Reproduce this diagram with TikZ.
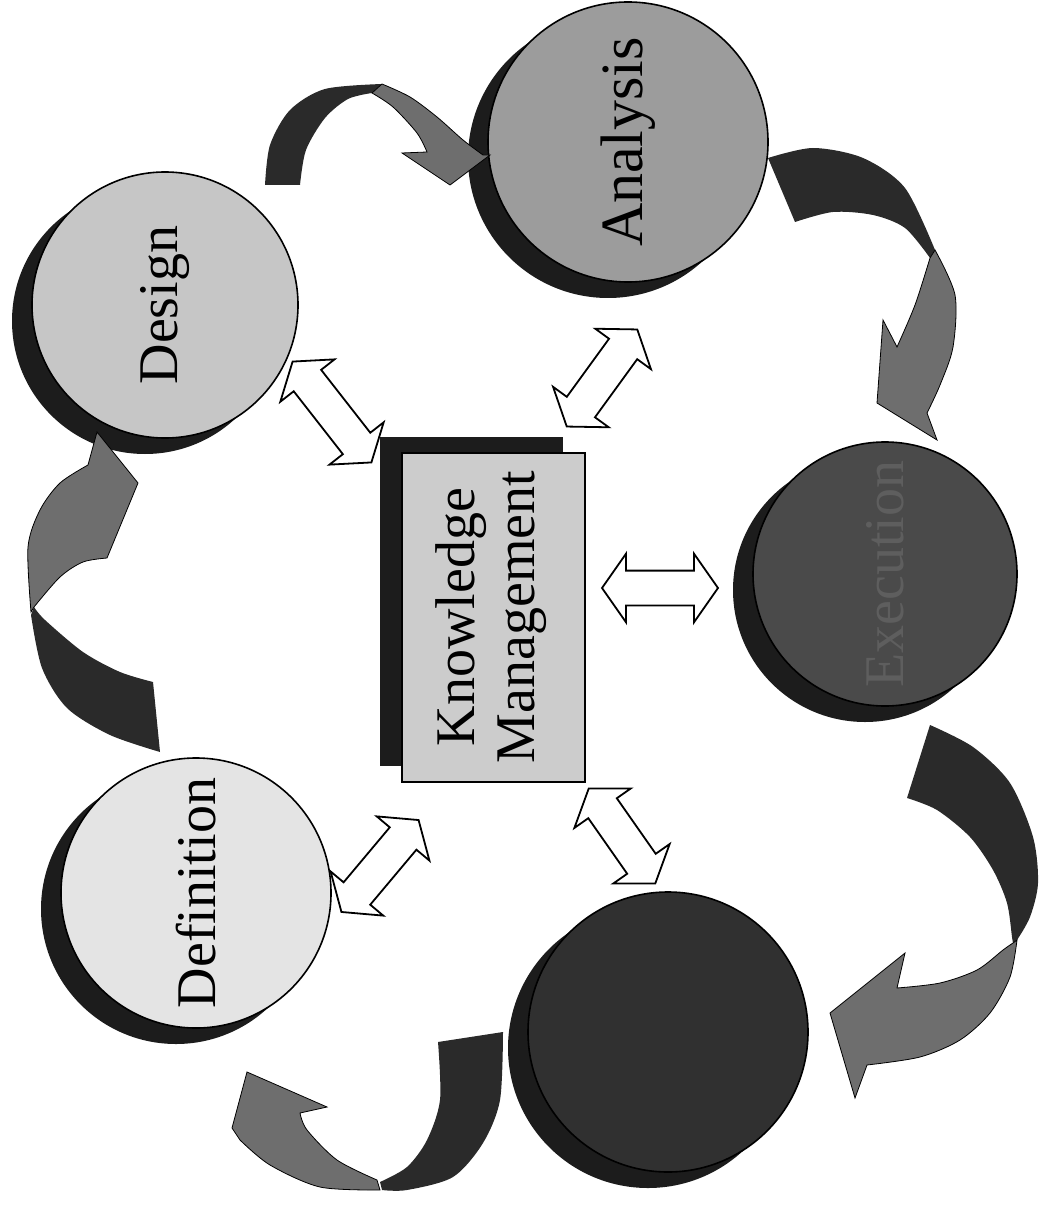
\documentclass[tikz,border=0pt]{standalone}
\usepackage{fontspec}
\setmainfont{Liberation Serif}
\usetikzlibrary{shapes.arrows,shadows}
\definecolor{cdef}{HTML}{E4E4E4}
\definecolor{cdes}{HTML}{C6C6C6}
\definecolor{cana}{HTML}{9C9C9C}
\definecolor{cexe}{HTML}{4A4A4A}
\definecolor{cbot}{HTML}{303030}
\definecolor{ckm}{HTML}{CCCCCC}
\definecolor{shd}{HTML}{1C1C1C}
\definecolor{rdark}{HTML}{2A2A2A}
\definecolor{rgray}{HTML}{6E6E6E}
\definecolor{exetext}{HTML}{5E5E5E}
\tikzset{
  % Phase disc with a dark crescent shadow down and to the left.
  phase/.style  = {circle, draw=black, line width=0.8pt, fill=#1, inner sep=0pt,
                   drop shadow={shadow xshift=-10pt, shadow yshift=-8pt, fill=shd, opacity=1}},
  phase/.default = cdes,
  lbl/.style    = {rotate=90, font=\fontsize{28}{30}\selectfont, align=center, inner sep=0pt},
  kmbox/.style  = {rectangle, draw=black, line width=0.6pt, fill=ckm, inner sep=0pt,
                   minimum width=91.5pt, minimum height=164.5pt,
                   drop shadow={shadow xshift=-11pt, shadow yshift=8pt, fill=shd, opacity=1}},
  link/.style   = {double arrow, draw=black, line width=0.9pt, fill=white,
                   inner xsep=0pt, inner ysep=8.25pt, minimum width=33.5pt,
                   double arrow head extend=8.5pt, double arrow tip angle=110,
                   minimum height=#1},
  link/.default = 60pt,
  back/.style   = {fill=rdark},
  front/.style  = {fill=rgray, draw=black, line width=0.4pt},
}

\begin{document}
\begin{tikzpicture}[x=0.5pt,y=-0.5pt]
\useasboundingbox (0,0) rectangle (1045,1208);
% phases
\node[phase=cdef, minimum size=135pt] (def) at (196,893) {};
\node[phase=cdes, minimum size=133pt] (des) at (165,305) {};
\node[phase=cana, minimum size=140pt] (ana) at (628,142) {};
\node[phase=cexe, minimum size=132pt] (exe) at (885,574) {};
\node[phase=cbot, minimum size=140pt] (bot) at (668,1032) {};
\node[lbl] at (def) {Definition};
\node[lbl] at (des) {Design};
\node[lbl, font=\fontsize{30}{32}\selectfont] at (ana) {Analysis};
\node[lbl, text=exetext] at (exe) {Execution};
% knowledge management
\node[kmbox] (km) at (493.5,617.5) {};
\node[lbl] at (491,617) {Knowledge\\Management};
% exchange with the centre
\node[link=64pt, rotate=-52] (l1) at (332,412) {};
\node[link=60pt, rotate=54]  (l2) at (602,378) {};
\node[link=58pt]             (l3) at (660,588) {};
\node[link=60pt, rotate=50]  (l4) at (380,866) {};
\node[link=58pt, rotate=-55] (l5) at (622,836) {};
% cycle: design -> analysis
\fill[back] plot[smooth] coordinates {(265,185) (270,145) (290,110) (325,89) (382,84)}
  -- plot[smooth] coordinates {(372,93) (348,99) (325,118) (306,150) (300,185)} -- cycle;
\filldraw[front] plot[smooth] coordinates {(382,84) (410,97) (437,117) (463,140) (483,155)}
  -- (490,155) -- (450,185) -- (402,153) -- (427,152)
  -- plot[smooth] coordinates {(427,152) (417,133) (393,107) (372,93)} -- cycle;
% analysis -> execution
\fill[back] plot[smooth] coordinates {(768,158) (813,148) (863,158) (905,188) (935,250)}
  -- plot[smooth] coordinates {(930,258) (905,228) (873,215) (833,212) (795,222)} -- cycle;
\filldraw[front] plot[smooth] coordinates {(935,250) (955,295) (953,347) (940,385) (927,413)}
  -- (937,440) -- (877,403) -- (883,320) -- (897,347)
  -- plot[smooth] coordinates {(897,347) (915,305) (930,258)} -- cycle;
% execution -> next
\fill[back] plot[smooth] coordinates {(930,725) (973,747) (1010,783) (1033,837) (1038,883) (1030,917) (1017,940)}
  -- plot[smooth] coordinates {(1013,943) (1012,937) (1007,903) (993,870) (970,837) (937,810) (907,798)} -- cycle;
\filldraw[front] plot[smooth] coordinates {(1017,940) (1010,977) (990,1013) (960,1040) (920,1057) (867,1065)}
  -- (855,1098) -- (830,1013) -- (905,953) -- (897,988)
  -- plot[smooth] coordinates {(897,988) (940,983) (977,970) (1003,950) (1013,943)} -- cycle;
% next -> definition
\fill[back] plot[smooth] coordinates {(438,1042) (440,1100) (427,1140) (407,1167) (380,1182)}
  -- plot[smooth] coordinates {(382,1190) (407,1190) (453,1177) (483,1143) (500,1100) (503,1032)} -- cycle;
\filldraw[front] plot[smooth] coordinates {(380,1190) (320,1187) (270,1165) (240,1140)}
  -- (232,1128) -- (247,1072) -- (327,1107) -- (300,1113)
  -- plot[smooth] coordinates {(300,1113) (307,1130) (337,1160) (377,1180)} -- cycle;
% definition -> design
\fill[back] plot[smooth] coordinates {(160,752) (110,735) (67,708) (42,668) (31,615)}
  -- plot[smooth] coordinates {(34,607) (45,620) (83,652) (120,672) (153,682)} -- cycle;
\filldraw[front] plot[smooth] coordinates {(31,612) (28,547) (40,510) (60,483) (88,465)}
  -- (97,432) -- (138,483) -- (107,558)
  -- plot[smooth] coordinates {(107,558) (83,562) (60,577) (34,607)} -- cycle;
\end{tikzpicture}
\end{document}
